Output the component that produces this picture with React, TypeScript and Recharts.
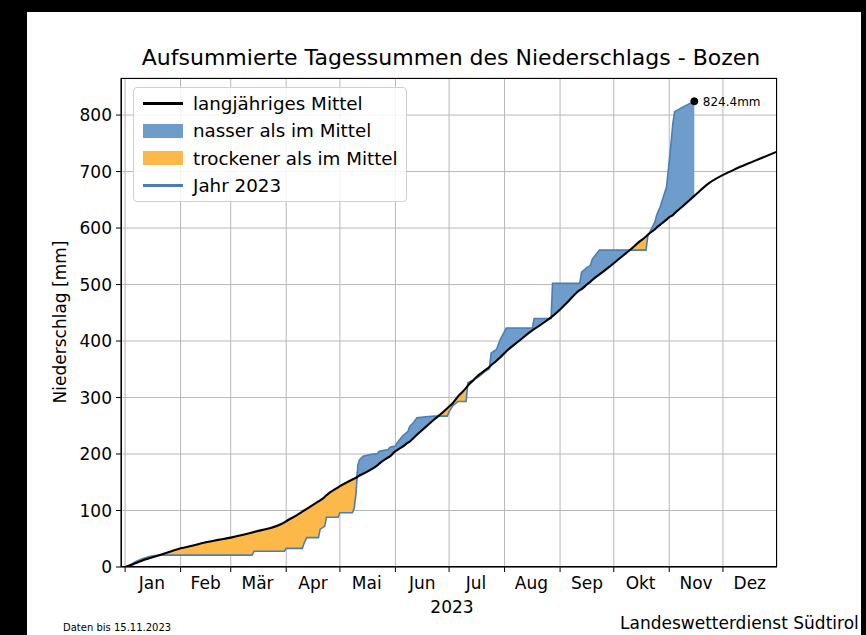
import { ComposedChart, Line, Area, XAxis, YAxis, CartesianGrid, ReferenceDot } from 'recharts'

// day of year (0 = 1. Jan), long-term mean and 2023 cumulative precipitation [mm]
const days = [
  0, 3, 6, 10, 14, 19, 25, 31, 38, 44, 52, 59, 66, 71, 72, 80, 85, 89, 90, 96,
  99, 100, 101.5, 108, 109, 111.5, 112.5, 119, 120, 127, 128, 129, 130, 131, 133, 137, 141, 142, 147, 148,
  151, 152, 155, 158, 159, 161, 163, 168, 173, 175, 180, 181, 183, 186, 190.5, 191.5, 195, 198, 201, 203.5,
  204.5, 207.5, 209.5, 213, 220, 227.5, 228.5, 235, 238, 238.8, 246, 254, 255, 258, 260, 261, 265, 270, 275, 282,
  287, 291, 292, 296, 297, 299, 302.5, 303.5, 305, 306, 307, 312, 318, 326, 340, 351, 364,
]
const meanValues = [
  0, 3, 7, 12, 16, 21, 27, 33, 38, 43, 48, 52, 57, 61, 62, 68, 73, 79, 81, 92,
  98, 100, 103, 116, 118, 124, 127, 141, 143, 155, 156.5, 158, 160, 162, 165, 172, 180, 183, 194, 196,
  205, 207, 213, 220, 222, 228, 234, 248, 262, 267, 281, 284, 290, 302, 317, 321, 332, 341, 348, 354,
  357, 365, 371, 382, 400, 419, 421, 435, 442, 444, 465, 490, 492, 500, 505, 508, 518, 530, 543, 561,
  575, 585, 588, 598, 601, 606, 615, 618, 621, 623, 626, 640, 657, 679, 703, 718, 735,
]
const values2023: (number | null)[] = [
  0, 4, 10, 15, 19, 21, 21, 21, 21, 21, 21, 21, 21, 21, 28, 28, 28, 28, 33, 33,
  33, 42, 52, 52, 67, 72, 88, 88, 96, 96, 104, 130, 180, 190, 196, 199, 201, 205, 208, 212,
  214, 220, 232, 240, 249, 255, 264, 266, 267, 267, 267, 275, 285, 293, 293, 326, 332, 338, 346, 351,
  379, 385, 402, 423, 423, 423, 440, 440, 440, 502, 502, 502, 522, 530, 534, 545, 561, 561, 561, 561,
  561, 561, 585, 611, 623, 638, 673, 703, 750, 785, 806, 815, 824.4, null, null, null, null,
]

const monthStarts = [0, 31, 59, 90, 120, 151, 181, 212, 243, 273, 304, 334]
const monthMids = [15, 45, 74, 105, 135, 166, 196, 227, 258, 288, 319, 349]
const monthNames = ['Jan', 'Feb', 'Mär', 'Apr', 'Mai', 'Jun', 'Jul', 'Aug', 'Sep', 'Okt', 'Nov', 'Dez']
const yTicks = [0, 100, 200, 300, 400, 500, 600, 700, 800]

const BLUE_LINE = '#4a7fb5'
const BLUE_FILL = '#6e9dcc'
const ORANGE = '#fdb84a'
const FONT = '"DejaVu Sans", Verdana, sans-serif'

const legendItems = [
  { label: 'langjähriges Mittel', kind: 'line', color: '#000' },
  { label: 'nasser als im Mittel', kind: 'patch', color: BLUE_FILL },
  { label: 'trockener als im Mittel', kind: 'patch', color: ORANGE },
  { label: 'Jahr 2023', kind: 'line', color: BLUE_LINE },
]

const table = days.map((day, i) => {
  const mean = meanValues[i]
  const y = values2023[i]
  return {
    day,
    mean,
    y2023: y,
    wet: y == null ? null : [mean, Math.max(mean, y)],
    dry: y == null ? null : [Math.min(mean, y), mean],
  }
})

const lastIdx = values2023.findIndex(v => v == null) - 1

function LegendBox() {
  return (
    <div
      style={{
        position: 'absolute',
        left: 133,
        top: 87,
        background: 'rgba(255,255,255,0.85)',
        border: '1px solid #d0d0d0',
        borderRadius: 4,
        padding: '2px 8px 2px 9px',
        fontFamily: FONT,
        fontSize: 18.3,
        color: '#000',
      }}
    >
      {legendItems.map(item => (
        <div key={item.label} style={{ display: 'flex', alignItems: 'center', height: 27.3 }}>
          <div style={{ width: 40, marginRight: 10, display: 'flex', alignItems: 'center' }}>
            {item.kind === 'line' ? (
              <div style={{ width: 40, height: 2.5, background: item.color }} />
            ) : (
              <div style={{ width: 40, height: 14, background: item.color }} />
            )}
          </div>
          <span style={{ whiteSpace: 'nowrap' }}>{item.label}</span>
        </div>
      ))}
    </div>
  )
}

export default function App() {
  return (
    <div style={{ position: 'fixed', left: 0, top: 0, width: 866, height: 635, background: '#000', overflow: 'hidden' }}>
      <div style={{ position: 'absolute', left: 27, top: 12, width: 834, height: 623, background: '#fff' }} />
      <div
        style={{
          position: 'absolute', left: 0, top: 45, width: 902, textAlign: 'center',
          fontFamily: FONT, fontSize: 22, color: '#000',
        }}
      >
        Aufsummierte Tagessummen des Niederschlags - Bozen
      </div>
      <div
        style={{
          position: 'absolute', left: 60, top: 322, transform: 'translate(-50%, -50%) rotate(-90deg)',
          fontFamily: FONT, fontSize: 17, color: '#000', whiteSpace: 'nowrap',
        }}
      >
        Niederschlag [mm]
      </div>
      <div style={{ position: 'absolute', left: 452, top: 597, transform: 'translateX(-50%)', fontFamily: FONT, fontSize: 17, color: '#000' }}>
        2023
      </div>
      <div style={{ position: 'absolute', left: 63, top: 622, fontFamily: FONT, fontSize: 10, color: '#000' }}>
        Daten bis 15.11.2023
      </div>
      <div style={{ position: 'absolute', left: 620, top: 613, fontFamily: FONT, fontSize: 17, color: '#000' }}>
        Landeswetterdienst Südtirol
      </div>
      <div style={{ position: 'absolute', left: 0, top: 0 }}>
        <ComposedChart
          width={866}
          height={635}
          data={table}
          margin={{ top: 78, right: 89, left: 65, bottom: 40 }}
        >
          <XAxis
            dataKey="day"
            type="number"
            domain={[-2.3, 364.2]}
            ticks={monthStarts}
            tickFormatter={() => ''}
            height={6}
            tickSize={5}
            stroke="#000"
            allowDataOverflow
          />
          <XAxis
            xAxisId="lbl"
            dataKey="day"
            type="number"
            domain={[-2.3, 364.2]}
            ticks={monthMids}
            tickFormatter={(_v, i) => monthNames[i]}
            interval={0}
            height={22}
            tickSize={0}
            tickMargin={4}
            axisLine={false}
            tickLine={false}
            tick={{ fill: '#000', fontSize: 17, fontFamily: FONT }}
          />
          <YAxis
            type="number"
            domain={[0, 865.6]}
            ticks={yTicks}
            width={56}
            tickSize={5}
            tickMargin={4}
            stroke="#000"
            tick={{ fill: '#000', fontSize: 17, fontFamily: FONT }}
            allowDataOverflow
          />
          <Area dataKey="wet" type="linear" fill={BLUE_FILL} fillOpacity={1} stroke="none" isAnimationActive={false} />
          <Area dataKey="dry" type="linear" fill={ORANGE} fillOpacity={1} stroke="none" isAnimationActive={false} />
          <CartesianGrid stroke="#b8b8b8" strokeWidth={1} />
          <Line dataKey="y2023" type="linear" stroke={BLUE_LINE} strokeWidth={1.6} dot={false} isAnimationActive={false} />
          <Line dataKey="mean" type="monotone" stroke="#000" strokeWidth={2.1} dot={false} isAnimationActive={false} />
          <ReferenceDot
            x={days[lastIdx]}
            y={values2023[lastIdx] as number}
            r={3.5}
            fill="#000"
            stroke="#000"
            label={{ value: `${values2023[lastIdx]}mm`, position: 'right', fill: '#000', fontSize: 12, fontFamily: FONT }}
          />
        </ComposedChart>
      </div>
      {/* axes frame (matplotlib spines) */}
      <div style={{ position: 'absolute', left: 121, top: 78, width: 656, height: 489, border: '1.2px solid #000', boxSizing: 'border-box', pointerEvents: 'none' }} />
      <LegendBox />
    </div>
  )
}
